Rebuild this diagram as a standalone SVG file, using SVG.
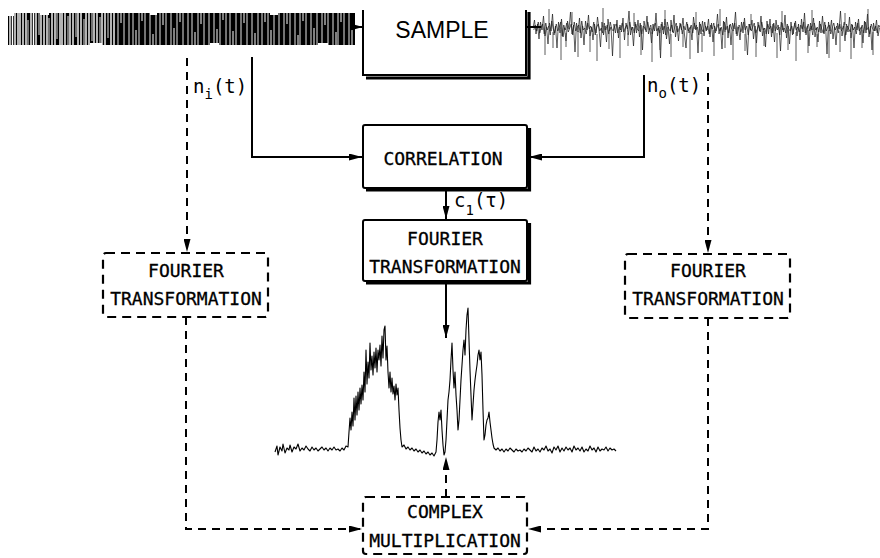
<svg xmlns="http://www.w3.org/2000/svg" width="880" height="558" viewBox="0 0 880 558">
<style>
.box{fill:#fff;stroke:#000;stroke-width:2}
.dbox{fill:#fff;stroke:#000;stroke-width:2.2;stroke-dasharray:9 6}
.shadow{fill:none;stroke:#000;stroke-width:3.2}
.lbl{font-family:"DejaVu Sans Mono",monospace;font-size:18px;fill:#000;stroke:#000;stroke-width:0.3;text-anchor:middle}
.sym{font-family:"DejaVu Sans Mono",monospace;font-size:19px;fill:#000}
.sub{font-size:14px}
.wire{fill:none;stroke:#000;stroke-width:2}
.dash{fill:none;stroke:#000;stroke-width:2;stroke-dasharray:8 6}
.sig{fill:none;stroke:#1a1a1a;stroke-width:0.7;stroke-linejoin:miter}
</style>
<defs>
<marker id="ah" viewBox="0 0 13 7" refX="13" refY="3.5" markerWidth="13" markerHeight="7" markerUnits="userSpaceOnUse" orient="auto"><path d="M0,0 L13,3.5 L0,7 z" fill="#000"/></marker>
</defs>
<rect width="880" height="558" fill="#fff"/>

<!-- input noise signal -->
<g id="signal-in">
<rect x="8" y="13" width="347" height="32" fill="#000"/>
<path fill="none" stroke="#fff" stroke-width="1.4" d="M10,13v32M12.5,13v32M15,13v32M18,13v32M20,13v32M23,13v32M26,13v32M31,13v32M33.5,13v32M36,13v32M41,13v32M44,13v32M47,13v32M52,13v32M55,13v32M60,13v32M62,13v32M65,13v32M70,13v32M73,13v32M78,13v32M81,13v32M86,13v32M89,13v32M94,13v32M97,13v32M102,13v32M105,13v32M111,13v32M114,13v32"/>
<path fill="none" stroke="#fff" stroke-width="0.9" d="M28,20v25M39,13v22M49,18v27M57,13v26M68,16v29M76,13v24M84,19v26M92,13v28M100,17v28M108,13v25M118,13v32M124,13v32M129,13v32M133,13v32M139,13v32M145,13v32M150,13v32M156,13v32M160,13v32M166,13v32M171,13v32M177,13v32M183,13v32M188,13v32M192,13v32M198,13v32M204,13v32M209,13v32M214,13v32M220,13v32M226,13v32M230,13v32M236,13v32M241,13v32M247,13v32M252,13v32M258,13v32M262,13v32M268,13v32M274,13v32M279,13v32M284,13v32M290,13v32M295,13v32M300,13v32M306,13v32M311,13v32M317,13v32M322,13v32M328,13v32M333,13v32M338,13v32M344,13v32M349,13v32"/>
<path fill="none" stroke="#fff" stroke-width="1" d="M121,13v10M136,30v15M142,13v8M153,34v11M163,13v12M174,28v17M180,13v9M195,32v13M201,13v11M217,29v16M223,13v7M233,31v14M244,13v10M255,33v12M265,13v9M271,30v15M287,13v11M298,35v10M303,13v8M314,28v17M325,13v12M336,32v13M341,13v9M352,30v15"/>
<path fill="#fff" d="M8,13h6v3h-6zM40,13h9v2h-9zM90,43h12v2h-12zM150,13h7v2h-7zM210,43h9v2h-9zM270,13h8v2h-8zM318,43h10v2h-10z"/>
</g>

<!-- output noise signal -->
<g id="signal-out">
<polyline class="sig" vector-effect="non-scaling-stroke" transform="translate(533,0) scale(1.5,1)" points="0,28 1,20 2,34 3,24 4,39 5,22 6,30 7,16 8,36 9,27 10,44 11,23 12,31 13,14 14,35 15,26 16,48 17,22 18,33 19,19 20,37 21,28 22,41 23,21 24,29 25,12 26,34 27,25 28,52 29,23 30,32 31,18 32,38 33,26 34,45 35,21 36,30 37,15 38,36 39,27 40,40 41,24 42,33 43,17 44,29 45,47 46,22 47,35 48,26 49,42 50,19 51,31 52,27 53,56 54,24 55,33 56,20 57,38 58,25 59,32 60,18 61,40 62,23 63,29 64,11 65,35 66,27 67,46 68,22 69,33 70,20 71,37 72,25 73,50 74,21 75,30 76,16 77,34 78,28 79,43 80,24 81,31 82,13 83,36 84,26 85,58 86,22 87,34 88,19 89,39 90,27 91,44 92,20 93,32 94,15 95,37 96,26 97,41 98,23 99,30 100,18 101,35 102,48 103,24 104,33 105,27 106,40 107,17 108,29 109,25 110,53 111,22 112,34 113,21 114,36 115,26 116,30 117,19 118,37 119,23 120,42 121,26 122,31 123,14 124,34 125,28 126,49 127,21 128,32 129,17 130,38 131,25 132,45 133,23 134,29 135,12 136,36 137,27 138,40 139,22 140,33 141,18 142,35 143,55 144,24 145,30 146,20 147,39 148,26 149,43 150,22 151,31 152,16 153,36 154,28 155,47 156,21 157,34 158,19 159,37 160,24 161,42 162,20 163,30 164,27 165,51 166,23 167,32 168,15 169,38 170,26 171,44 172,22 173,35 174,27 175,21 176,36 177,24 178,40 179,19 180,32 181,13 182,35 183,26 184,46 185,23 186,30 187,18 188,37 189,28 190,42 191,21 192,33 193,16 194,34 195,25 196,54 197,22 198,31 199,20 200,39 201,27 202,45 203,23 204,29 205,11 206,36 207,26 208,41 209,24 210,32 211,17 212,38 213,25 214,48 215,22 216,30 217,19 218,35 219,27 220,43 221,21 222,33 223,14 224,37 225,26 226,50 227,23 228,31 229,20 230,36 231,28"/>
<polyline class="sig" vector-effect="non-scaling-stroke" transform="translate(533.75,0) scale(1.5,1)" points="0,30 1,25 2,31 3,22 4,33 5,27 6,24 7,34 8,23 9,30 10,26 11,35 12,21 13,29 14,33 15,24 16,31 17,27 18,22 19,36 20,25 21,30 22,23 23,32 24,28 25,24 26,35 27,22 28,31 29,27 30,25 31,33 32,21 33,30 34,28 35,34 36,23 37,29 38,26 39,32 40,22 41,35 42,27 43,24 44,31 45,28 46,33 47,23 48,30 49,25 50,34 51,22 52,29 53,31 54,26 55,24 56,33 57,27 58,30 59,23 60,32 61,28 62,25 63,35 64,22 65,30 66,27 67,33 68,24 69,29 70,31 71,23 72,34 73,26 74,28 75,32 76,22 77,30 78,25 79,34 80,27 81,23 82,31 83,28 84,33 85,24 86,30 87,26 88,35 89,22 90,29 91,31 92,25 93,33 94,27 95,23 96,32 97,28 98,24 99,34 100,26 101,30 102,22 103,31 104,28 105,25 106,33 107,23 108,30 109,27 110,35 111,24 112,29 113,32 114,22 115,31 116,26 117,34 118,25 119,29 120,23 121,33 122,28 123,24 124,31 125,27 126,35 127,22 128,30 129,26 130,33 131,24 132,29 133,31 134,23 135,34 136,27 137,25 138,32 139,28 140,22 141,30 142,26 143,35 144,24 145,31 146,27 147,23 148,33 149,29 150,25 151,32 152,22 153,30 154,28 155,34 156,24 157,29 158,26 159,33 160,23 161,31 162,27 163,25 164,35 165,22 166,30 167,28 168,33 169,24 170,29 171,31 172,26 173,34 174,23 175,30 176,27 177,32 178,25 179,29 180,22 181,33 182,28 183,24 184,31 185,26 186,35 187,23 188,30 189,27 190,32 191,24 192,29 193,33 194,22 195,31 196,27 197,25 198,34 199,28 200,23 201,30 202,26 203,33 204,24 205,31 206,28 207,22 208,35 209,26 210,29 211,32 212,24 213,30 214,27 215,34 216,23 217,31 218,28 219,25 220,33 221,22 222,30 223,27 224,34 225,24 226,29 227,31 228,26 229,33 230,25 231,28"/>
<path fill="none" stroke="#333" stroke-width="0.8" d="M545,30V55M553,32V48M561,30V60M566,33V47M578,31V57M590,30V52M597,34V61M609,30V49M620,31V58M628,33V46M641,30V55M652,32V62M660,30V50M671,34V57M683,30V47M690,31V59M702,33V52M714,30V56M725,32V48M733,30V60M745,34V51M756,30V57M764,31V46M777,33V58M788,30V50M796,32V61M808,30V53M817,34V47M829,30V58M840,31V52M851,33V59M862,30V48M873,32V55M549,26V9M572,25V12M603,27V8M634,26V13M665,25V10M696,27V12M720,26V9M751,25V14M782,27V11M812,26V10M845,25V13M868,27V9"/>
</g>

<!-- spectrum -->
<g id="spectrum">
<polyline fill="none" stroke="#000" stroke-width="1.1" stroke-linejoin="round" points="275,452 277,446 278,455 280,447 282,451 283,444 285,453 287,448 289,450 290,445 292,452 294,447 296,449 298,444 300,451 302,448 304,450 306,446 308,449 310,451 312,447 314,450 316,448 318,451 320,449 322,447 324,450 326,448 328,451 330,448 332,450 334,447 336,450 338,449 340,451 342,448 344,450 346,446 348,447 349,432 350,418 351,430 352,412 353,426 354,398 355,420 356,396 357,415 358,392 359,410 360,388 361,404 362,385 363,400 364,372 365,392 366,350 367,384 368,362 369,378 370,343 371,370 372,356 373,375 374,352 375,368 376,348 377,372 378,350 379,360 380,345 381,366 382,336 383,358 384,330 385,326 386,360 387,346 388,372 389,388 390,372 391,392 392,378 393,394 394,386 395,400 396,384 397,395 398,388 399,410 400,428 401,440 402,447 404,445 406,449 408,447 410,450 412,448 414,451 416,449 418,452 420,450 422,453 424,451 426,454 428,452 430,455 432,453 434,456 436,452 437,440 438,422 439,412 440,420 441,410 442,430 443,445 444,455 445,452 446,440 447,420 448,400 449,392 450,380 451,360 452,343 453,370 454,388 455,372 456,395 457,410 458,430 459,420 460,400 461,380 462,365 463,350 464,340 465,355 466,330 467,315 468,308 469,340 470,370 471,395 472,420 473,405 474,390 475,380 476,372 477,365 478,355 479,350 480,360 481,352 482,375 483,410 484,440 485,435 486,425 487,420 488,418 489,412 490,422 491,430 492,438 493,444 494,448 496,450 498,448 500,451 502,449 504,452 506,449 508,451 510,448 512,450 514,452 516,449 518,451 520,450 522,452 524,449 526,451 528,448 530,450 532,452 534,447 536,451 538,449 540,452 542,448 544,450 546,446 548,451 550,449 552,453 554,447 556,450 558,446 560,452 562,448 564,451 566,447 568,450 570,448 572,452 574,446 576,450 578,448 580,451 582,447 584,452 586,449 588,451 590,446 592,450 594,448 596,452 598,447 600,451 602,449 604,450 606,447 608,451 610,448 612,450 614,449 616,451"/>
</g>

<!-- connectors -->
<g id="connectors">
<path class="wire" d="M355,27 H363" marker-end="url(#ah)"/>
<path class="wire" d="M527,27 H541"/>
<path class="wire" d="M252,57 V157 H362" marker-end="url(#ah)"/>
<path class="wire" d="M644,75 V157 H529" marker-end="url(#ah)"/>
<path class="wire" d="M446,188 V219" marker-end="url(#ah)"/>
<path class="wire" d="M446,281 V338" marker-end="url(#ah)"/>
<path class="dash" d="M187,58 V252" marker-end="url(#ah)"/>
<path class="dash" d="M708,73 V253" marker-end="url(#ah)"/>
<path class="dash" d="M186,317 V529 H362" marker-end="url(#ah)"/>
<path class="dash" d="M708,318 V529 H528" marker-end="url(#ah)"/>
<path class="dash" d="M446,497 V457" marker-end="url(#ah)"/>
</g>

<!-- nodes -->
<g id="node-sample">
<path class="wire" d="M363,10 V75 H526 V10" fill="#fff"/>
<path class="shadow" d="M366,78 H529 V12"/>
<text x="442" y="38" font-family="Liberation Sans, Arial, sans-serif" font-size="23" text-anchor="middle">SAMPLE</text>
</g>

<g id="node-correlation">
<rect class="box" x="363" y="125" width="164" height="63" rx="2"/>
<path class="shadow" d="M366,190 H529.5 V128"/>
<text class="lbl" x="443" y="165">CORRELATION</text>
</g>

<g id="node-ft-center">
<rect class="box" x="363" y="220" width="164" height="61" rx="2"/>
<path class="shadow" d="M366,283 H529.5 V223"/>
<text class="lbl" x="445" y="245">FOURIER</text>
<text class="lbl" x="445" y="273">TRANSFORMATION</text>
</g>

<g id="node-ft-left">
<rect class="dbox" x="103" y="253" width="165" height="64" rx="3"/>
<text class="lbl" x="186" y="277">FOURIER</text>
<text class="lbl" x="186" y="305">TRANSFORMATION</text>
</g>

<g id="node-ft-right">
<rect class="dbox" x="625" y="254" width="165" height="64" rx="3"/>
<text class="lbl" x="708" y="277">FOURIER</text>
<text class="lbl" x="708" y="305">TRANSFORMATION</text>
</g>

<g id="node-complex">
<rect class="dbox" x="363" y="497" width="164" height="57" rx="3"/>
<text class="lbl" x="445" y="518">COMPLEX</text>
<text class="lbl" x="445" y="547">MULTIPLICATION</text>
</g>

<!-- signal labels -->
<g id="labels">
<text class="sym" x="193" y="93">n<tspan class="sub" dy="6">i</tspan><tspan dy="-6">(t)</tspan></text>
<text class="sym" x="647" y="92">n<tspan class="sub" dy="6">o</tspan><tspan dy="-6">(t)</tspan></text>
<text class="sym" x="454" y="207">c<tspan class="sub" dy="8">1</tspan><tspan dy="-8">(τ)</tspan></text>
</g>
</svg>
